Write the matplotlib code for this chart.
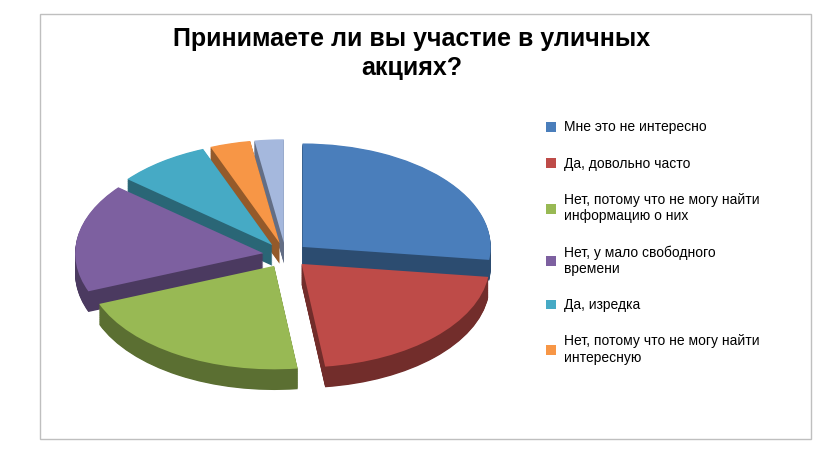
import matplotlib
matplotlib.use("Agg")
import matplotlib.pyplot as plt
import matplotlib.colors as mc
from matplotlib.patches import Rectangle
import numpy as np

labels = ["Мне это не интересно", "Да, довольно часто",
          "Нет, потому что не могу найти\nинформацию о них",
          "Нет, у мало свободного\nвремени", "Да, изредка",
          "Нет, потому что не могу найти\nинтересную", "Другое"]
values = [27, 21, 21, 17, 8, 3.5, 2.5]
colors = ["#4a7ebb", "#be4b48", "#98b954", "#7d60a0", "#46aac5", "#f79646", "#a5b8dd"]

plt.rcParams['font.family'] = ['Liberation Sans', 'DejaVu Sans']
fig = plt.figure(figsize=(8.4, 4.5), dpi=100)
fig.patches.append(Rectangle((0.048, 0.025), 0.917, 0.945, transform=fig.transFigure,
                             fill=False, edgecolor="#bfbfbf", linewidth=1))
fig.text(0.49, 0.94, "Принимаете ли вы участие в уличных\nакциях?", ha="center", va="top",
         fontsize=18, fontweight="bold", linespacing=1.25)

ax = fig.add_axes([0.06, 0.06, 0.56, 0.70])
explode = [0.12] * len(values)
dark = [tuple(np.array(mc.to_rgb(c)) * 0.6) for c in colors]
depth = 0.2
n = 30
for k in range(n, 0, -1):
    ax.pie(values, colors=dark, explode=explode, startangle=90, counterclock=False,
           center=(0, -depth * k / n), radius=1.0)
wedges, _ = ax.pie(values, colors=colors, explode=explode, startangle=90, counterclock=False,
                   center=(0, 0), radius=1.0)
ax.set_aspect(0.55)
ax.set_xlim(-1.25, 1.25)
ax.set_ylim(-1.5, 1.3)
ax.axis("off")

fig.legend(wedges[:6], labels[:6], loc="upper left", bbox_to_anchor=(0.635, 0.76),
           frameon=False, fontsize=10, handlelength=0.7, handleheight=0.7,
           labelspacing=1.6, handletextpad=0.6)
fig.savefig("out.png", dpi=100)
